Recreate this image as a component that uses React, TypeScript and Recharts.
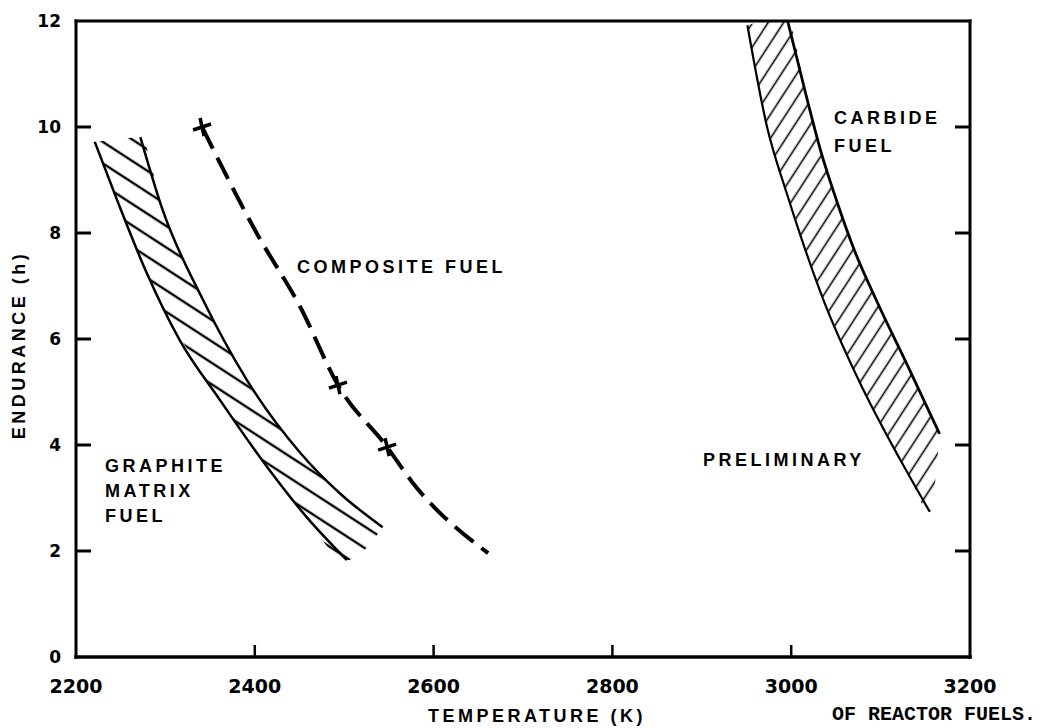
import React from "react";
import { ComposedChart, Line, Area, XAxis, YAxis } from "recharts";

// axis ticks
const X_TICKS = [2200, 2400, 2600, 2800, 3000, 3200];
const Y_TICKS = [0, 2, 4, 6, 8, 10, 12];
const TOP_TICKS = [2400];

// graphite matrix fuel band (edges)
const graphiteLeft = [
  { t: 2221, e: 9.72 },
  { t: 2246, e: 8.62 },
  { t: 2279, e: 7.25 },
  { t: 2316, e: 5.98 },
  { t: 2361, e: 4.85 },
  { t: 2414, e: 3.58 },
  { t: 2458, e: 2.64 },
  { t: 2503, e: 1.83 },
];
const graphiteRight = [
  { t: 2272, e: 9.81 },
  { t: 2297, e: 8.43 },
  { t: 2342, e: 6.74 },
  { t: 2391, e: 5.23 },
  { t: 2451, e: 3.85 },
  { t: 2495, e: 3.09 },
  { t: 2543, e: 2.45 },
];
const graphiteHatch = [
  { t: 2221, r: [9.72, 9.72] },
  { t: 2246, r: [8.62, 9.76] },
  { t: 2272, r: [7.54, 9.81] },
  { t: 2297, r: [6.63, 8.43] },
  { t: 2342, r: [5.33, 6.74] },
  { t: 2391, r: [4.13, 5.23] },
  { t: 2451, r: [2.79, 3.85] },
  { t: 2503, r: [1.83, 2.98] },
  { t: 2543, r: [2.45, 2.45] },
];

// composite fuel (dashed) and its x marks
const composite = [
  { t: 2341, e: 10.0 },
  { t: 2402, e: 8.0 },
  { t: 2451, e: 6.6 },
  { t: 2493, e: 5.13 },
  { t: 2548, e: 3.96 },
  { t: 2577, e: 3.28 },
  { t: 2661, e: 1.96 },
];
const compositeMarks = [
  { t: 2341, e: 10.0 },
  { t: 2493, e: 5.13 },
  { t: 2548, e: 3.96 },
];

// carbide fuel band
const carbideLeft = [
  { t: 2951, e: 11.92 },
  { t: 2973, e: 10.0 },
  { t: 2995, e: 8.75 },
  { t: 3012, e: 7.87 },
  { t: 3036, e: 6.74 },
  { t: 3077, e: 5.17 },
  { t: 3122, e: 3.72 },
  { t: 3155, e: 2.74 },
];
const carbideRight = [
  { t: 2996, e: 12.0 },
  { t: 3018, e: 10.51 },
  { t: 3033, e: 9.55 },
  { t: 3051, e: 8.6 },
  { t: 3071, e: 7.66 },
  { t: 3095, e: 6.74 },
  { t: 3131, e: 5.47 },
  { t: 3166, e: 4.21 },
];
const carbideHatch = [
  { t: 2951, r: [11.92, 11.92] },
  { t: 2973, r: [10.0, 12.0] },
  { t: 2996, r: [8.7, 12.0] },
  { t: 3018, r: [7.59, 10.51] },
  { t: 3033, r: [6.88, 9.55] },
  { t: 3051, r: [6.17, 8.6] },
  { t: 3071, r: [5.4, 7.66] },
  { t: 3095, r: [4.59, 6.74] },
  { t: 3131, r: [3.45, 5.47] },
  { t: 3155, r: [2.74, 4.61] },
  { t: 3166, r: [4.21, 4.21] },
];

const TICK_FONT = "'DejaVu Sans', sans-serif";
const LABEL_FONT = "'Liberation Sans', Arial, sans-serif";

const BottomTick = (props: any) => {
  const { x, y, payload } = props;
  const v = payload.value;
  const inner = v !== X_TICKS[0] && v !== X_TICKS[X_TICKS.length - 1];
  return (
    <g>
      {inner && <line x1={x} y1={y} x2={x} y2={y - 12} stroke="#000" strokeWidth={2.5} />}
      <text x={x} y={y + 36} textAnchor="middle" fontFamily={TICK_FONT} fontWeight="bold" fontSize={19} fill="#000">
        {v}
      </text>
    </g>
  );
};

const LeftTick = (props: any) => {
  const { x, y, payload } = props;
  const v = payload.value;
  const inner = v !== Y_TICKS[0] && v !== Y_TICKS[Y_TICKS.length - 1];
  return (
    <g>
      {inner && <line x1={x} y1={y} x2={x + 15} y2={y} stroke="#000" strokeWidth={3} />}
      <text x={x - 15} y={y + 6} textAnchor="end" fontFamily={TICK_FONT} fontWeight="bold" fontSize={17} fill="#000">
        {v}
      </text>
    </g>
  );
};

const RightTick = (props: any) => {
  const { x, y, payload } = props;
  const v = payload.value;
  if (v === Y_TICKS[0] || v === Y_TICKS[Y_TICKS.length - 1]) return <g />;
  return <line x1={x} y1={y} x2={x - 15} y2={y} stroke="#000" strokeWidth={3} />;
};

const TopTick = (props: any) => {
  const { x, y } = props;
  return <line x1={x} y1={y} x2={x} y2={y + 12} stroke="#000" strokeWidth={2} />;
};

const CrossMark = (props: any) => {
  const { cx, cy, index } = props;
  if (cx == null || cy == null) return <g key={index} />;
  return (
    <g key={index}>
      <line x1={cx - 9} y1={cy + 3} x2={cx + 9} y2={cy - 3} stroke="#000" strokeWidth={3.5} />
      <line x1={cx - 2} y1={cy - 9} x2={cx + 2} y2={cy + 9} stroke="#000" strokeWidth={3.5} />
    </g>
  );
};

const labelStyle = {
  fontFamily: LABEL_FONT,
  fontWeight: "bold" as const,
  fontSize: 18,
  letterSpacing: 3.5,
  fill: "#000",
};

const axisLineStyle = { stroke: "#000", strokeWidth: 3, strokeLinecap: "square" as const };

export default function App() {
  return (
    <div
      style={{
        position: "fixed",
        top: 0,
        left: 0,
        width: 1043,
        height: 728,
        overflow: "hidden",
        background: "#fff",
      }}
    >
      {/* plot area: x 76..970, y 21..657 */}
      <ComposedChart
        width={1043}
        height={728}
        margin={{ top: 11, right: 63, bottom: 41, left: 16 }}
      >
        <XAxis
          xAxisId={0}
          dataKey="t"
          type="number"
          domain={[2200, 3200]}
          ticks={X_TICKS}
          allowDataOverflow
          height={30}
          tickSize={0}
          tickMargin={0}
          tickLine={false}
          axisLine={{ ...axisLineStyle, strokeWidth: 3.5 }}
          tick={BottomTick}
          interval={0}
        />
        <XAxis
          xAxisId="top"
          orientation="top"
          type="number"
          domain={[2200, 3200]}
          ticks={TOP_TICKS}
          allowDataOverflow
          height={10}
          tickSize={0}
          tickMargin={0}
          tickLine={false}
          axisLine={axisLineStyle}
          tick={TopTick}
          interval={0}
        />
        <YAxis
          yAxisId={0}
          type="number"
          domain={[0, 12]}
          ticks={Y_TICKS}
          allowDataOverflow
          width={60}
          tickSize={0}
          tickMargin={0}
          tickLine={false}
          axisLine={axisLineStyle}
          tick={LeftTick}
          interval={0}
        />
        <YAxis
          yAxisId="right"
          orientation="right"
          type="number"
          domain={[0, 12]}
          ticks={Y_TICKS}
          allowDataOverflow
          width={10}
          tickSize={0}
          tickMargin={0}
          tickLine={false}
          axisLine={axisLineStyle}
          tick={RightTick}
          interval={0}
        />

        {/* hatched bands */}
        <Area
          data={graphiteHatch}
          dataKey="r"
          type="monotone"
          stroke="none"
          fill="url(#hatchGraphite)"
          fillOpacity={1}
          isAnimationActive={false}
        />
        <Area
          data={carbideHatch}
          dataKey="r"
          type="monotone"
          stroke="none"
          fill="url(#hatchCarbide)"
          fillOpacity={1}
          isAnimationActive={false}
        />

        {/* band edges */}
        <Line data={graphiteLeft} dataKey="e" type="monotone" stroke="#000" strokeWidth={2.5} dot={false} isAnimationActive={false} />
        <Line data={graphiteRight} dataKey="e" type="monotone" stroke="#000" strokeWidth={2.5} dot={false} isAnimationActive={false} />
        <Line data={carbideLeft} dataKey="e" type="monotone" stroke="#000" strokeWidth={2.2} dot={false} isAnimationActive={false} />
        <Line data={carbideRight} dataKey="e" type="monotone" stroke="#000" strokeWidth={2.8} dot={false} isAnimationActive={false} />

        {/* composite fuel */}
        <Line
          data={composite}
          dataKey="e"
          type="monotone"
          stroke="#000"
          strokeWidth={4}
          strokeDasharray="24 10"
          dot={false}
          isAnimationActive={false}
        />
        <Line
          data={compositeMarks}
          dataKey="e"
          stroke="none"
          dot={(p: any) => <CrossMark key={p.index} {...p} />}
          isAnimationActive={false}
        />
      </ComposedChart>

      <svg
        width={1043}
        height={728}
        style={{ position: "absolute", top: 0, left: 0, pointerEvents: "none" }}
      >
        <defs>
          <pattern id="hatchGraphite" patternUnits="userSpaceOnUse" width={20} height={18} patternTransform="rotate(33)">
            <line x1={0} y1={9} x2={20} y2={9} stroke="#000" strokeWidth={2.4} />
          </pattern>
          <pattern id="hatchCarbide" patternUnits="userSpaceOnUse" width={20} height={13} patternTransform="rotate(-57)">
            <line x1={0} y1={6.5} x2={20} y2={6.5} stroke="#000" strokeWidth={1.6} />
          </pattern>
        </defs>

        <text x={834} y={124} {...labelStyle}>CARBIDE</text>
        <text x={834} y={152} {...labelStyle}>FUEL</text>
        <text x={703} y={466} {...labelStyle}>PRELIMINARY</text>
        <text x={297} y={273} {...labelStyle}>COMPOSITE FUEL</text>
        <text x={105} y={472} {...labelStyle}>GRAPHITE</text>
        <text x={105} y={497} {...labelStyle}>MATRIX</text>
        <text x={105} y={522} {...labelStyle}>FUEL</text>

        <text transform="translate(25,345) rotate(-90)" textAnchor="middle" {...labelStyle}>
          ENDURANCE (h)
        </text>
        <text x={537} y={722} textAnchor="middle" {...labelStyle}>
          TEMPERATURE (K)
        </text>

        <text
          x={1036}
          y={720}
          textAnchor="end"
          fontFamily="'Liberation Mono', 'DejaVu Sans Mono', monospace"
          fontWeight="bold"
          fontSize={20}
          fill="#000"
        >
          OF REACTOR FUELS.
        </text>
      </svg>
    </div>
  );
}
